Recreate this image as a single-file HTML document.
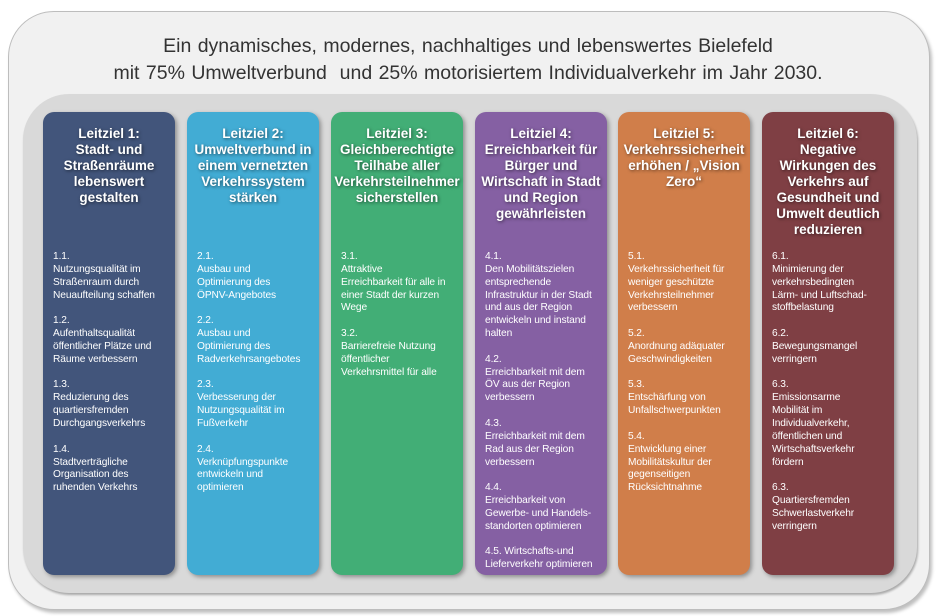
<!DOCTYPE html>
<html><head><meta charset="utf-8"><style>
body{margin:0;width:936px;height:616px;background:#fff;position:relative;overflow:hidden;font-family:"Liberation Sans",sans-serif}
.outer{position:absolute;left:8px;top:11px;width:920px;height:597px;background:#f1f1f1;border:1px solid #bdbdbd;border-radius:46px;box-shadow:2px 3px 3px rgba(0,0,0,.25)}
.inner{position:absolute;left:23px;top:94px;width:894px;height:499px;background:#d9d9d9;border-radius:46px;box-shadow:1px 2px 2px rgba(0,0,0,.3)}
.title{position:absolute;left:0;top:33px;width:936px;text-align:center;font-size:19.5px;line-height:27px;color:#333;word-spacing:1px}
.col{position:absolute;top:112px;width:132px;height:463px;border-radius:11px;box-shadow:2px 2px 4px rgba(0,0,0,.35);color:#fff}
.h{position:absolute;left:0;top:126px;width:100%;text-align:center;font-weight:bold;font-size:13.5px;line-height:16px;text-shadow:1px 1px 3px rgba(0,0,0,.55)}
.b{position:absolute;left:10px;top:139px;width:126px;font-size:10.2px;line-height:12.85px;white-space:nowrap;letter-spacing:-.1px}
</style></head><body>
<div class="outer"></div>
<div class="title">Ein dynamisches, modernes, nachhaltiges und lebenswertes Bielefeld<br>mit 75% Umweltverbund &nbsp;und 25% motorisiertem Individualverkehr im Jahr 2030.</div>
<div class="inner"></div>

<div class="col" style="left:43px;background:#42557b"><div class="h" style="top:14px">Leitziel 1:<br>Stadt- und<br>Straßenräume<br>lebenswert<br>gestalten</div>
<div class="b">1.1.<br>Nutzungsqualität im<br>Straßenraum durch<br>Neuaufteilung schaffen<br><br>1.2.<br>Aufenthaltsqualität<br>öffentlicher Plätze und<br>Räume verbessern<br><br>1.3.<br>Reduzierung des<br>quartiersfremden<br>Durchgangsverkehrs<br><br>1.4.<br>Stadtverträgliche<br>Organisation des<br>ruhenden Verkehrs</div></div>

<div class="col" style="left:187px;background:#42acd4"><div class="h" style="top:14px">Leitziel 2:<br>Umweltverbund in<br>einem vernetzten<br>Verkehrssystem<br>stärken</div>
<div class="b">2.1.<br>Ausbau und<br>Optimierung des<br>ÖPNV-Angebotes<br><br>2.2.<br>Ausbau und<br>Optimierung des<br>Radverkehrsangebotes<br><br>2.3.<br>Verbesserung der<br>Nutzungsqualität im<br>Fußverkehr<br><br>2.4.<br>Verknüpfungspunkte<br>entwickeln und<br>optimieren</div></div>

<div class="col" style="left:331px;background:#42ae76"><div class="h" style="top:14px">Leitziel 3:<br>Gleichberechtigte<br>Teilhabe aller<br>Verkehrsteilnehmer<br>sicherstellen</div>
<div class="b">3.1.<br>Attraktive<br>Erreichbarkeit für alle in<br>einer Stadt der kurzen<br>Wege<br><br>3.2.<br>Barrierefreie Nutzung<br>öffentlicher<br>Verkehrsmittel für alle</div></div>

<div class="col" style="left:475px;background:#8560a3"><div class="h" style="top:14px">Leitziel 4:<br>Erreichbarkeit für<br>Bürger und<br>Wirtschaft in Stadt<br>und Region<br>gewährleisten</div>
<div class="b">4.1.<br>Den Mobilitätszielen<br>entsprechende<br>Infrastruktur in der Stadt<br>und aus der Region<br>entwickeln und instand<br>halten<br><br>4.2.<br>Erreichbarkeit mit dem<br>ÖV aus der Region<br>verbessern<br><br>4.3.<br>Erreichbarkeit mit dem<br>Rad aus der Region<br>verbessern<br><br>4.4.<br>Erreichbarkeit von<br>Gewerbe- und Handels-<br>standorten optimieren<br><br>4.5. Wirtschafts-und<br>Lieferverkehr optimieren</div></div>

<div class="col" style="left:618px;background:#d07e4a"><div class="h" style="top:14px">Leitziel 5:<br>Verkehrssicherheit<br>erhöhen / „Vision<br>Zero“</div>
<div class="b">5.1.<br>Verkehrssicherheit für<br>weniger geschützte<br>Verkehrsteilnehmer<br>verbessern<br><br>5.2.<br>Anordnung adäquater<br>Geschwindigkeiten<br><br>5.3.<br>Entschärfung von<br>Unfallschwerpunkten<br><br>5.4.<br>Entwicklung einer<br>Mobilitätskultur der<br>gegenseitigen<br>Rücksichtnahme</div></div>

<div class="col" style="left:762px;background:#7f3f44"><div class="h" style="top:14px">Leitziel 6:<br>Negative<br>Wirkungen des<br>Verkehrs auf<br>Gesundheit und<br>Umwelt deutlich<br>reduzieren</div>
<div class="b">6.1.<br>Minimierung der<br>verkehrsbedingten<br>Lärm- und Luftschad-<br>stoffbelastung<br><br>6.2.<br>Bewegungsmangel<br>verringern<br><br>6.3.<br>Emissionsarme<br>Mobilität im<br>Individualverkehr,<br>öffentlichen und<br>Wirtschaftsverkehr<br>fördern<br><br>6.3.<br>Quartiersfremden<br>Schwerlastverkehr<br>verringern</div></div>
</body></html>
